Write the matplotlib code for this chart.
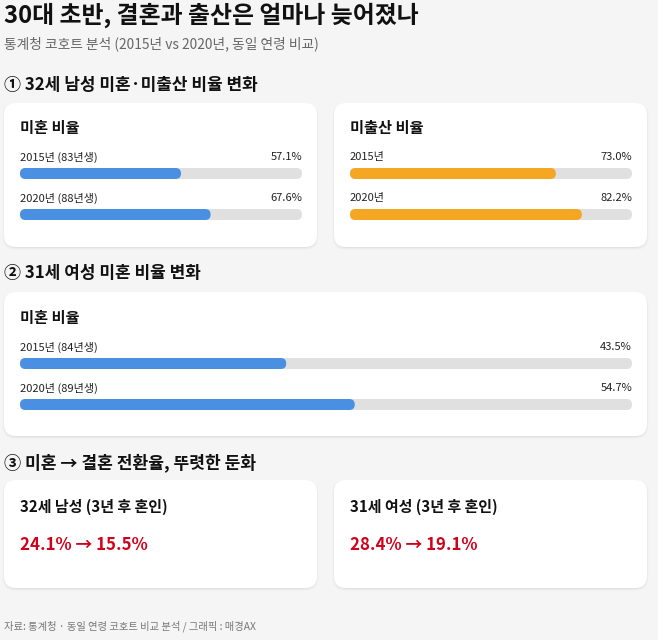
import matplotlib
matplotlib.use("Agg")
import matplotlib.pyplot as plt
from matplotlib.patches import FancyBboxPatch

plt.rcParams['font.family'] = ['Noto Sans CJK KR', 'DejaVu Sans']

# Data
title = '30대 초반, 결혼과 출산은 얼마나 늦어졌나'
subtitle = '통계청 코호트 분석 (2015년 vs 2020년, 동일 연령 비교)'
sections = ['① 32세 남성 미혼·미출산 비율 변화', '② 31세 여성 미혼 비율 변화',
            '③ 미혼 → 결혼 전환율, 뚜렷한 둔화']

male_unmarried_labels = ['2015년 (83년생)', '2020년 (88년생)']
male_unmarried = [57.1, 67.6]
male_childless_labels = ['2015년', '2020년']
male_childless = [73.0, 82.2]
female_unmarried_labels = ['2015년 (84년생)', '2020년 (89년생)']
female_unmarried = [43.5, 54.7]

transition_groups = ['32세 남성 (3년 후 혼인)', '31세 여성 (3년 후 혼인)']
transition_2015 = [24.1, 28.4]
transition_2020 = [15.5, 19.1]

source = '자료: 통계청 · 동일 연령 코호트 비교 분석 / 그래픽 : 매경AX'

W, H = 658, 640
BG = '#f5f5f5'
BLUE = '#4a90e2'
ORANGE = '#f5a623'
TRACK = '#e0e0e0'
RED = '#d0021b'

fig = plt.figure(figsize=(W / 100, H / 100), dpi=100, facecolor=BG)
bg = fig.add_axes([0, 0, 1, 1])
bg.set_xlim(0, W)
bg.set_ylim(H, 0)
bg.axis('off')
bg.set_facecolor(BG)


def card(x, y, w, h):
    # soft shadow + white rounded card
    for i, a in enumerate([0.035, 0.025, 0.015]):
        bg.add_patch(FancyBboxPatch((x - i * 0.8, y + 1 - i * 0.5), w + i * 1.6, h + i * 1.5,
                                    boxstyle='round,pad=0,rounding_size=13',
                                    fc='black', ec='none', alpha=a, zorder=1))
    bg.add_patch(FancyBboxPatch((x, y), w, h, boxstyle='round,pad=0,rounding_size=12',
                                fc='white', ec='none', zorder=2))


def px_axes(x, y, w, h):
    ax = fig.add_axes([x / W, 1 - (y + h) / H, w / W, h / H])
    ax.set_xlim(0, 100)
    ax.set_ylim(0, 1)
    ax.axis('off')
    return ax


def bar(x, y, w, h, value, color):
    ax = px_axes(x, y, w, h)
    r = (h / 2) * (100 / w)
    asp = 0.5 / r
    for v, c in [(100, TRACK), (value, color)]:
        ax.add_patch(FancyBboxPatch((0, 0), v, 1, boxstyle=f'round,pad=0,rounding_size={r}',
                                    mutation_aspect=asp, fc=c, ec='none'))


def bar_group(x, y0, w, heading, labels, values, color):
    bg.text(x, y0, heading, fontsize=11, fontweight='bold', color='#111', va='center', zorder=3)
    for i, (lab, v) in enumerate(zip(labels, values)):
        ly = y0 + 29 + i * 41
        bg.text(x, ly, lab, fontsize=8, color='#222', va='center', zorder=3)
        bg.text(x + w, ly, f'{v:.1f}%', fontsize=8, color='#222', va='center', ha='right', zorder=3)
        bar(x, ly + 11, w, 11, v, color)


# title
bg.text(4, 15, title, fontsize=17.2, fontweight='bold', color='#111', va='center')
bg.text(4, 44, subtitle, fontsize=9.9, color='#666', va='center')

# section 1
bg.text(4, 85, sections[0], fontsize=12.2, fontweight='bold', color='#111', va='center')
card(4, 103, 313, 144)
card(334, 103, 313, 144)
bar_group(20, 128, 282, '미혼 비율', male_unmarried_labels, male_unmarried, BLUE)
bar_group(350, 128, 282, '미출산 비율', male_childless_labels, male_childless, ORANGE)

# section 2
bg.text(4, 273, sections[1], fontsize=12.2, fontweight='bold', color='#111', va='center')
card(4, 292, 643, 144)
bar_group(20, 318, 612, '미혼 비율', female_unmarried_labels, female_unmarried, BLUE)

# section 3
bg.text(4, 463, sections[2], fontsize=12.3, fontweight='bold', color='#111', va='center')
for i, (grp, a, b) in enumerate(zip(transition_groups, transition_2015, transition_2020)):
    cx = 4 + i * 330
    card(cx, 480, 313, 108)
    bg.text(cx + 16, 507, grp, fontsize=10.8, fontweight='bold', color='#111', va='center', zorder=3)
    bg.text(cx + 16, 545, f'{a:.1f}% → {b:.1f}%', fontsize=12.1, fontweight='bold', color=RED,
            va='center', zorder=3)

bg.text(4, 626, source, fontsize=7.4, color='#777', va='center')

fig.savefig('out.png', dpi=100, facecolor=BG)
